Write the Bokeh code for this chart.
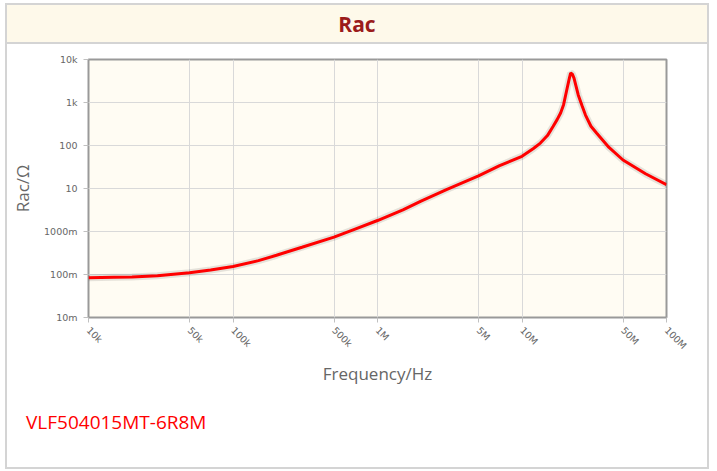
import math
from bokeh.plotting import figure
from bokeh.layouts import column
from bokeh.models import FixedTicker, Range1d, Div
from bokeh.embed import file_html
from bokeh.resources import INLINE

# ---- data ----
freq_hz = [1e4, 1.5e4, 2e4, 3e4, 5e4, 7e4, 1e5, 1.5e5, 2e5, 3e5, 5e5, 7e5,
           1e6, 1.5e6, 2e6, 3e6, 5e6, 7e6, 1e7, 1.2e7, 1.34e7, 1.5e7, 1.64e7,
           1.75e7, 1.85e7, 1.94e7, 2.03e7, 2.12e7, 2.17e7, 2.23e7, 2.29e7,
           2.45e7, 2.6e7, 2.75e7, 3e7, 3.28e7, 4e7, 5e7, 7.16e7, 1e8]
rac_ohm = [0.084, 0.086, 0.087, 0.094, 0.11, 0.127, 0.153, 0.21, 0.28, 0.43,
           0.74, 1.14, 1.8, 3.2, 5.1, 9.4, 19.6, 34, 56, 85, 114, 170, 277,
           400, 570, 890, 1800, 3500, 4800, 4600, 3700,
           1500, 850, 510, 280, 195, 90, 46, 22, 12.3]

x_ticks = [10000, 50000, 100000, 500000, 1000000, 5000000, 10000000, 50000000, 100000000]
x_tick_labels = ["10k", "50k", "100k", "500k", "1M", "5M", "10M", "50M", "100M"]
y_ticks = [0.01, 0.1, 1, 10, 100, 1000, 10000]
y_tick_labels = ["10m", "100m", "1000m", "10", "100", "1k", "10k"]

chart_title = "Rac"
x_label = "Frequency/Hz"
y_label = "Rac/\u03a9"
part_name = "VLF504015MT-6R8M"

W = 700

# ---- header ----
head = Div(
    text=('<div style="width:700px;height:39px;line-height:39px;text-align:center;'
          'font-family:\'Open Sans\';font-weight:bold;font-size:21px;color:#9b1c1c;'
          'background:#fef9ea;border-bottom:2px solid #d4d4d4;">'
          + chart_title + '</div>'),
    width=W, height=41, margin=0)

# ---- main chart ----
p = figure(x_axis_type="log", y_axis_type="log",
           x_range=Range1d(1e4, 1e8), y_range=Range1d(0.01, 1e4),
           frame_width=578, frame_height=258,
           min_border_left=81, min_border_right=41,
           min_border_top=13, min_border_bottom=83,
           output_backend="svg", toolbar_location=None)

p.background_fill_color = "#fffcf3"
p.border_fill_color = "white"
p.outline_line_color = "#999999"
p.outline_line_width = 2

for ax in (p.xaxis[0], p.yaxis[0]):
    ax.axis_line_color = None
    ax.major_tick_line_color = "#c0c0c0"
    ax.major_tick_out = 5
    ax.major_tick_in = 0
    ax.minor_tick_line_color = None
    ax.major_label_text_font = "DejaVu Sans"
    ax.major_label_text_font_size = "9.5px"
    ax.major_label_text_color = "#666666"
    ax.axis_label_text_font = "Open Sans"
    ax.axis_label_text_font_size = "17px"
    ax.axis_label_text_font_style = "normal"
    ax.axis_label_text_color = "#666666"

p.xaxis.ticker = FixedTicker(ticks=x_ticks)
p.xaxis.major_label_overrides = dict(zip(x_ticks, x_tick_labels))
p.xaxis.major_label_orientation = -math.pi / 4
p.xaxis.major_label_standoff = 6
p.xaxis.axis_label = x_label
p.xaxis.axis_label_standoff = 4

p.yaxis.ticker = FixedTicker(ticks=y_ticks)
p.yaxis.major_label_overrides = dict(zip(y_ticks, y_tick_labels))
p.yaxis.major_label_standoff = 6
p.yaxis.axis_label = y_label
p.yaxis.axis_label_standoff = 7

p.xgrid.grid_line_color = "#d9d9d9"
p.ygrid.grid_line_color = "#d9d9d9"

p.line(freq_hz, rac_ohm, line_color="black", line_alpha=0.10, line_width=7)
p.line(freq_hz, rac_ohm, line_color="#ff0000", line_width=3)

# ---- footer ----
foot = Div(
    text=('<div style="padding:13px 0 0 19px;line-height:19px;'
          'font-family:\'Open Sans\';font-size:19px;color:#ff0000;">'
          + part_name + '</div>'),
    width=W, height=67, margin=0)

layout = column(head, p, foot, spacing=0, margin=(3, 0, 0, 5),
                styles={"border": "2px solid #d4d4d4"})

open("out.html", "w").write(file_html(layout, INLINE, "Rac"))
